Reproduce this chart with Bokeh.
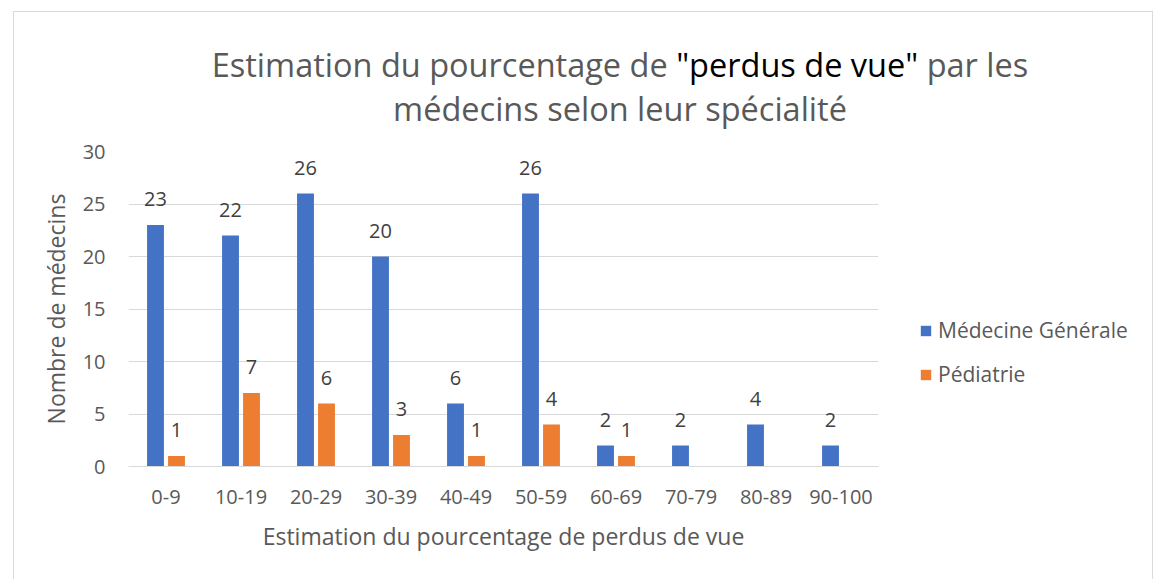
from bokeh.plotting import figure
from bokeh.models import (FactorRange, ColumnDataSource, Legend, LegendItem, Div,
                          SingleIntervalTicker)
from bokeh.transform import dodge
from bokeh.core.properties import value
from bokeh.embed import file_html
from bokeh.resources import INLINE

categories = ["0-9", "10-19", "20-29", "30-39", "40-49", "50-59", "60-69", "70-79", "80-89", "90-100"]
medecine_generale = [23, 22, 26, 20, 6, 26, 2, 2, 4, 2]
pediatrie = [1, 7, 6, 3, 1, 4, 1, None, None, None]

series_names = ["Médecine Générale", "Pédiatrie"]
colors = ["#4472C4", "#ED7D31"]
title_before = "Estimation du pourcentage de"
title_hl = '"perdus de vue"'
title_after = "par les"
title_line2 = "médecins selon leur spécialité"

FONT = "Open Sans"

W = 1140
TH = 129
FL, FT, FW, FH = 119, 29, 750, 315
MH = 455

# ---------- chart-area border ----------
box = Div(text="", width=W, height=569,
          styles={"position": "absolute", "left": "8px", "top": "6px",
                  "border": "1px solid #d9d9d9", "pointer-events": "none"})

# ---------- title ----------
title_html = (
    f'<div style="width:{W - 82}px;margin-left:82px;padding-top:36px;text-align:center;'
    f'font-family:\'{FONT}\';font-size:32.5px;line-height:44px;color:#595959;white-space:nowrap">'
    f'{title_before} <span style="color:#000000">{title_hl}</span> {title_after}<br>'
    f'{title_line2}</div>'
)
t = Div(text=title_html, width=W, height=TH,
        styles={"margin-left": "9px", "margin-top": "7px"})

# ---------- main chart ----------
p = figure(x_range=FactorRange(*categories, range_padding=0), y_range=(0, 30),
           width=W, height=MH, output_backend="svg", toolbar_location=None,
           min_border_left=FL, min_border_top=FT, min_border_right=W - FL - FW,
           min_border_bottom=MH - FT - FH)
p.styles = {"margin-left": "9px", "margin-top": "-19px"}
p.outline_line_color = None
p.border_fill_color = None
p.background_fill_color = None

mg_src = ColumnDataSource(dict(x=categories, y=medecine_generale,
                               t=[str(v) for v in medecine_generale]))
ped_x = [c for c, v in zip(categories, pediatrie) if v is not None]
ped_y = [v for v in pediatrie if v is not None]
ped_src = ColumnDataSource(dict(x=ped_x, y=ped_y, t=[str(v) for v in ped_y]))

bw = 0.225
r1 = p.vbar(x=dodge("x", -0.14, range=p.x_range), top="y", width=bw, source=mg_src,
            fill_color=colors[0], line_color=None)
r2 = p.vbar(x=dodge("x", 0.14, range=p.x_range), top="y", width=bw, source=ped_src,
            fill_color=colors[1], line_color=None)

for src, off in ((mg_src, -0.14), (ped_src, 0.14)):
    p.text(x=dodge("x", off, range=p.x_range), y="y", text="t", source=src,
           text_align="center", text_baseline="alphabetic", y_offset=-26,
           text_font=value(FONT), text_font_size="20px", text_color="#404040")

p.yaxis.ticker = SingleIntervalTicker(interval=5)
p.ygrid.ticker = SingleIntervalTicker(interval=5)
p.ygrid.grid_line_color = "#d9d9d9"
p.ygrid.grid_line_width = 1
p.xgrid.grid_line_color = None

for ax in (p.xaxis[0], p.yaxis[0]):
    ax.major_tick_line_color = None
    ax.minor_tick_line_color = None
    ax.major_tick_out = 0
    ax.major_tick_in = 0
    ax.major_label_text_font = FONT
    ax.major_label_text_font_size = "20px"
    ax.major_label_text_color = "#595959"
    ax.axis_label_text_font = FONT
    ax.axis_label_text_font_size = "23px"
    ax.axis_label_text_color = "#595959"
    ax.axis_label_text_font_style = "normal"

p.xaxis.axis_line_color = "#d9d9d9"
p.yaxis.axis_line_color = None
p.xaxis.major_label_standoff = 23
p.yaxis.major_label_standoff = 19
p.xaxis.axis_label = "Estimation du pourcentage de perdus de vue"
p.yaxis.axis_label = "Nombre de médecins"
p.xaxis.axis_label_standoff = 13
p.yaxis.axis_label_standoff = 8

# ---------- legend (own small figure, placed right of the plot) ----------
lg = figure(width=225, height=100, x_range=(0, 1), y_range=(0, 1),
            output_backend="svg", toolbar_location=None,
            min_border=0, min_border_left=0, min_border_right=0,
            min_border_top=0, min_border_bottom=0)
lg.axis.visible = False
lg.grid.visible = False
lg.outline_line_color = None
lg.border_fill_color = None
lg.background_fill_color = None
lg.styles = {"position": "absolute", "left": "915px", "top": "312px"}
# swatch renderers kept outside the visible range: only their legend glyph shows
d1 = lg.vbar(x=[5], top=[6], bottom=[5], width=1, fill_color=colors[0], line_color=None)
d2 = lg.vbar(x=[5], top=[6], bottom=[5], width=1, fill_color=colors[1], line_color=None)
legend = Legend(items=[LegendItem(label=series_names[0], renderers=[d1]),
                       LegendItem(label=series_names[1], renderers=[d2])],
                location="top_left", orientation="vertical",
                border_line_color=None, background_fill_alpha=0,
                label_text_font=FONT, label_text_font_size="21px",
                label_text_color="#595959", glyph_width=13, glyph_height=13,
                label_standoff=6, spacing=16, padding=0, margin=4, label_height=22)
lg.add_layout(legend, "center")

open("out.html", "w").write(file_html([box, t, p, lg], INLINE))
